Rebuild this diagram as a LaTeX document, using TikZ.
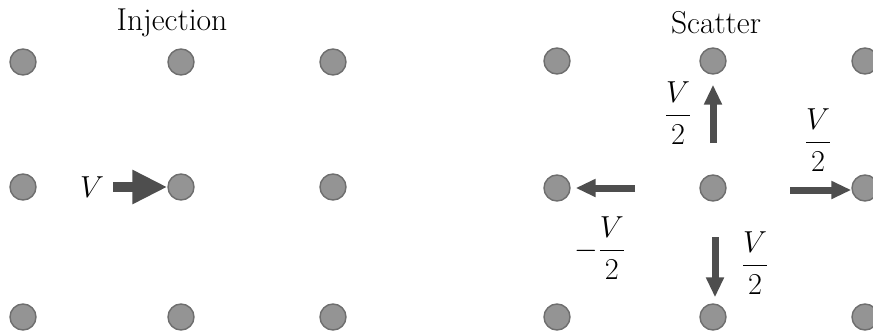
\documentclass[tikz,border=0pt]{standalone}
\usepackage{amsmath}
\usepackage{tikz}
\usetikzlibrary{arrows.meta}
\usepackage{xcolor}
\definecolor{dotfill}{RGB}{148, 148, 148}
\definecolor{dotedge}{RGB}{110, 110, 110}
\definecolor{arrowgray}{RGB}{78, 78, 78}

\begin{document}
\begin{tikzpicture}[
  x=0.02cm, y=-0.02cm,
  dot/.style={circle, draw=dotedge, fill=dotfill, thick, minimum size=0.52cm, inner sep=0pt},
  lbl/.style={inner sep=0pt, font=\fontsize{17}{20}\selectfont},
  ttl/.style={inner sep=0pt, font=\fontsize{18}{21}\selectfont},
  bigarrow/.style={draw=arrowgray, line width=0.2cm, -{Triangle[length=0.7cm, width=0.64cm]}, arrowgray},
  smallarrow/.style={draw=arrowgray, line width=0.14cm, -{Triangle[length=0.4cm, width=0.34cm]}, arrowgray}
]
  \useasboundingbox (0,0) rectangle (873,335);

  % --- Left: injection ---
  \node[ttl] (tinj) at (172,23) {Injection};
  \node[dot] (a1) at (23,62)   {};
  \node[dot] (a2) at (181,62)  {};
  \node[dot] (a3) at (333,62)  {};
  \node[dot] (a4) at (23,187)  {};
  \node[dot] (a5) at (181,187) {};
  \node[dot] (a6) at (333,187) {};
  \node[dot] (a7) at (23,317)  {};
  \node[dot] (a8) at (181,317) {};
  \node[dot] (a9) at (333,317) {};
  \coordinate (vfrom) at (113,187);
  \draw[bigarrow] (vfrom) -- (a5);
  \node[lbl, font=\fontsize{18}{21}\selectfont] (vin) at (92,187) {$V$};

  % --- Right: scatter ---
  \node[ttl] (tsca) at (716,23) {Scatter};
  \node[dot] (b1) at (557,61)  {};
  \node[dot] (b2) at (713,61)  {};
  \node[dot] (b3) at (865,61)  {};
  \node[dot] (b4) at (557,188) {};
  \node[dot] (b5) at (713,188) {};
  \node[dot] (b6) at (865,188) {};
  \node[dot] (b7) at (557,317) {};
  \node[dot] (b8) at (713,317) {};
  \node[dot] (b9) at (865,317) {};
  \coordinate (up0) at (713,143);
  \coordinate (dn0) at (715,237);
  \coordinate (lf0) at (635,188);
  \coordinate (rt0) at (790,190);
  \draw[smallarrow, shorten >=0.2cm] (up0) -- (b2);
  \draw[smallarrow, shorten >=0.12cm] (dn0) -- (b8.north -| dn0);
  \draw[smallarrow, shorten >=0.1cm] (lf0) -- (b4);
  \draw[smallarrow] (rt0) -- (b6.west |- rt0);
  \node[lbl] (lup) at (678,113) {$\dfrac{V}{2}$};
  \node[lbl] (lrt) at (818,140) {$\dfrac{V}{2}$};
  \node[lbl] (llf) at (600,248) {$-\dfrac{V}{2}$};
  \node[lbl] (ldn) at (755,263) {$\dfrac{V}{2}$};
\end{tikzpicture}
\end{document}
